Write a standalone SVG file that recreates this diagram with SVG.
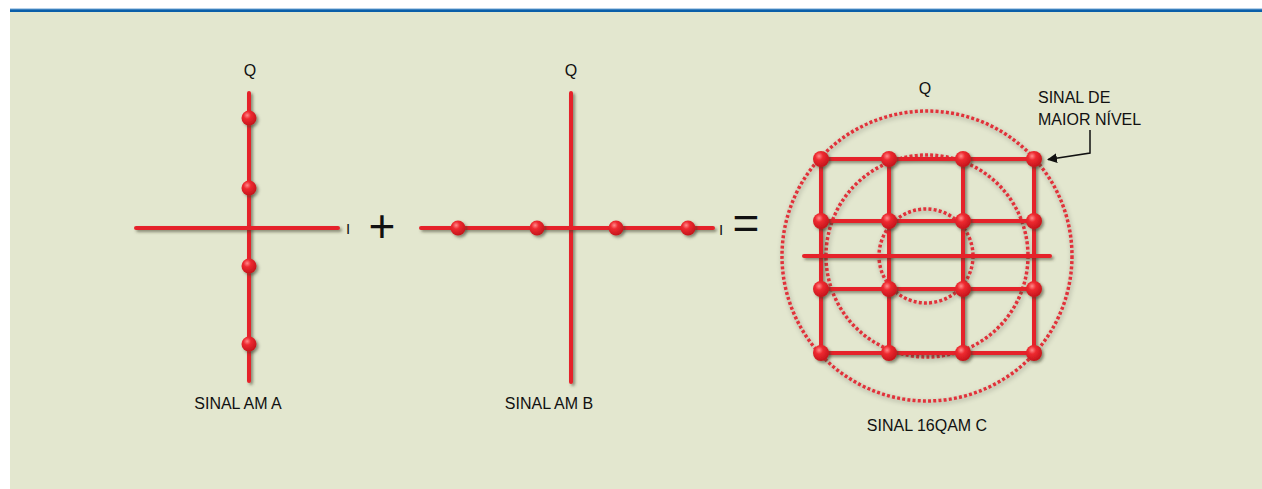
<svg xmlns="http://www.w3.org/2000/svg" width="1262" height="489" viewBox="0 0 1262 489">
  <defs>
    <style>
      .lbl { font-family: "Liberation Sans", Arial, sans-serif; font-size: 16px; fill: #111; }
      .ax { font-family: "Liberation Sans", Arial, sans-serif; font-size: 16px; fill: #111; text-anchor: middle; }
      .small { font-family: "Liberation Sans", Arial, sans-serif; font-size: 15px; fill: #111; text-anchor: middle; }
      .op { font-family: "Liberation Sans", Arial, sans-serif; font-size: 46px; fill: #111; text-anchor: middle; }
      .line { stroke: #e52429; stroke-width: 4; fill: none; stroke-linecap: round; filter: url(#sh); }
      .dot { fill: url(#dotg); filter: url(#sh); }
      .ring { fill: none; stroke: #e0323a; stroke-width: 3.5; stroke-dasharray: 3 2.2; filter: url(#ringsh); }
      .conn { stroke: #111; stroke-width: 1.5; fill: none; }
    </style>
    <filter id="sh" filterUnits="userSpaceOnUse" x="0" y="0" width="1262" height="489">
      <feDropShadow dx="2" dy="2" stdDeviation="1.6" flood-color="#3a3a2a" flood-opacity="0.55"/>
    </filter>
    <filter id="ringsh" filterUnits="userSpaceOnUse" x="0" y="0" width="1262" height="489">
      <feGaussianBlur in="SourceAlpha" stdDeviation="2.5" result="b"/>
      <feOffset dx="1" dy="2" in="b" result="o"/>
      <feComponentTransfer in="o" result="s"><feFuncA type="linear" slope="0.35"/></feComponentTransfer>
      <feMerge><feMergeNode in="s"/><feMergeNode in="SourceGraphic"/></feMerge>
    </filter>
    <radialGradient id="dotg" cx="0.38" cy="0.32" r="0.7">
      <stop offset="0" stop-color="#ff8a8a"/>
      <stop offset="0.35" stop-color="#ee2a30"/>
      <stop offset="1" stop-color="#c4141b"/>
    </radialGradient>
    <marker id="arr" viewBox="0 0 10 10" refX="9" refY="5" markerWidth="10" markerHeight="10" markerUnits="userSpaceOnUse" orient="auto">
      <path d="M0,0 L10,5 L0,10 z" fill="#111"/>
    </marker>
  </defs>

  <rect x="0" y="0" width="1262" height="489" fill="#ffffff"/>
  <rect x="10" y="12" width="1252" height="477" fill="#e3e7cf"/>
  <rect x="10" y="9" width="1252" height="3" fill="#0a5fa9"/>
  <rect x="10" y="8.5" width="1252" height="1" fill="#6fa3d4"/>

  <g id="sinal-am-a">
    <line class="line" x1="249" y1="93" x2="249" y2="381"/>
    <line class="line" x1="136" y1="228" x2="338" y2="228"/>
    <circle class="dot" cx="249" cy="118" r="7.5"/>
    <circle class="dot" cx="249" cy="188" r="7.5"/>
    <circle class="dot" cx="249" cy="266" r="7.5"/>
    <circle class="dot" cx="249" cy="344" r="7.5"/>
    <text class="ax" x="250" y="76">Q</text>
    <text class="small" x="348" y="234">I</text>
    <text class="lbl" x="238" y="409" text-anchor="middle">SINAL AM A</text>
  </g>

  <g id="op-plus">
    <text class="op" x="382" y="242">+</text>
  </g>

  <g id="sinal-am-b">
    <line class="line" x1="571" y1="93" x2="571" y2="382"/>
    <line class="line" x1="421" y1="228" x2="713" y2="228"/>
    <circle class="dot" cx="458" cy="228" r="7.5"/>
    <circle class="dot" cx="537" cy="228" r="7.5"/>
    <circle class="dot" cx="616" cy="228" r="7.5"/>
    <circle class="dot" cx="688" cy="228" r="7.5"/>
    <text class="ax" x="571" y="76">Q</text>
    <text class="small" x="721" y="235">I</text>
    <text class="lbl" x="549" y="409" text-anchor="middle">SINAL AM B</text>
  </g>

  <g id="op-equals">
    <text class="op" x="746" y="239">=</text>
  </g>

  <g id="sinal-16qam-c">
    <circle class="ring" cx="927" cy="256" r="145"/>
    <circle class="ring" cx="927" cy="256" r="101"/>
    <circle class="ring" cx="926" cy="256" r="47"/>
    <line class="line" x1="821" y1="159" x2="1034" y2="159"/>
    <line class="line" x1="821" y1="221" x2="1034" y2="221"/>
    <line class="line" x1="821" y1="289" x2="1034" y2="289"/>
    <line class="line" x1="821" y1="353" x2="1034" y2="353"/>
    <line class="line" x1="821" y1="159" x2="821" y2="353"/>
    <line class="line" x1="889" y1="159" x2="889" y2="353"/>
    <line class="line" x1="963" y1="159" x2="963" y2="353"/>
    <line class="line" x1="1034" y1="159" x2="1034" y2="353"/>
    <line class="line" x1="804" y1="256" x2="1050" y2="256"/>
    <circle class="dot" cx="821" cy="159" r="8"/>
    <circle class="dot" cx="889" cy="159" r="8"/>
    <circle class="dot" cx="963" cy="159" r="8"/>
    <circle class="dot" cx="1034" cy="159" r="8"/>
    <circle class="dot" cx="821" cy="221" r="8"/>
    <circle class="dot" cx="889" cy="221" r="8"/>
    <circle class="dot" cx="963" cy="221" r="8"/>
    <circle class="dot" cx="1034" cy="221" r="8"/>
    <circle class="dot" cx="821" cy="289" r="8"/>
    <circle class="dot" cx="889" cy="289" r="8"/>
    <circle class="dot" cx="963" cy="289" r="8"/>
    <circle class="dot" cx="1034" cy="289" r="8"/>
    <circle class="dot" cx="821" cy="353" r="8"/>
    <circle class="dot" cx="889" cy="353" r="8"/>
    <circle class="dot" cx="963" cy="353" r="8"/>
    <circle class="dot" cx="1034" cy="353" r="8"/>
    <text class="ax" x="925" y="94">Q</text>
    <text class="lbl" x="927" y="431" text-anchor="middle">SINAL 16QAM C</text>
  </g>

  <g id="label-maior-nivel">
    <text class="lbl" x="1038" y="103">SINAL DE</text>
    <text class="lbl" x="1038" y="125">MAIOR NÍVEL</text>
  </g>

  <g id="connectors">
    <polyline class="conn" points="1090,130 1090,153 1048,159.5" marker-end="url(#arr)"/>
  </g>
</svg>
